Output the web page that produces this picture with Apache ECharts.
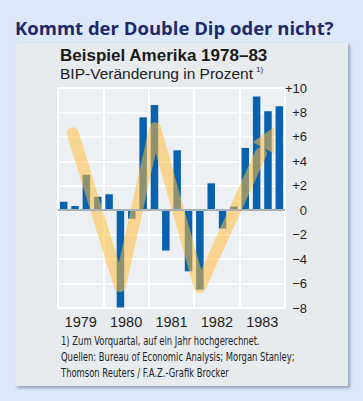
<!DOCTYPE html>
<html><head><meta charset="utf-8">
<script src="https://cdn.jsdelivr.net/npm/echarts/dist/echarts.min.js"></script>
<style>
html,body{margin:0;padding:0;background:#dde8f8;}
#wrap{position:relative;width:363px;height:401px;overflow:hidden;background:#dde8f8;}
#panel{position:absolute;left:15px;top:43px;width:333px;height:343px;background:#e7ebee;box-shadow:2px 2px 3px rgba(60,70,90,0.45);}
#chart{position:absolute;left:0;top:0;width:363px;height:401px;}
</style></head><body>
<div id="wrap"><div id="panel"></div><div id="chart"></div></div>
<script>
const quarters = ['1979 Q1','1979 Q2','1979 Q3','1979 Q4','1980 Q1','1980 Q2','1980 Q3','1980 Q4',
  '1981 Q1','1981 Q2','1981 Q3','1981 Q4','1982 Q1','1982 Q2','1982 Q3','1982 Q4',
  '1983 Q1','1983 Q2','1983 Q3','1983 Q4'];
const gdpChange = [0.7, 0.35, 2.9, 1.1, 1.3, -7.95, -0.7, 7.6, 8.6, -3.3, 4.9, -5.0, -6.5, 2.2, -1.5, 0.3, 5.1, 9.3, 8.1, 8.5];
const years = ['1979','1980','1981','1982','1983'];
const trendX = [1.3, 5.45, 8.55, 12.5, 17.87];
const trendY = [6.3, -6.2, 6.7, -6.3, 4.65];
const arrowBase = [18.09, 5.1];
const arrowTip = [19.05, 6.8];
const footnotes = ['1) Zum Vorquartal, auf ein Jahr hochgerechnet.',
  'Quellen: Bureau of Economic Analysis; Morgan Stanley;',
  'Thomson Reuters / F.A.Z.-Grafik Brocker'];

const trendColor = 'rgba(255,190,60,0.55)';
const chart = echarts.init(document.getElementById('chart'), null, {renderer:'svg'});
const txt = (x, y, text, font, fill, sx) => ({type:'text', x, y, scaleX: sx || 1, silent:true,
  style:{text, font, fill, align:'left', verticalAlign:'middle', textAlign:'left', textVerticalAlign:'middle'}});
const fnFont = '12px "DejaVu Sans Condensed", sans-serif';
chart.setOption({
  animation:false,
  backgroundColor:'transparent',
  grid:{left:58, right:78, top:88, bottom:93, show:true, backgroundColor:'#edf0f3', borderWidth:0},
  xAxis:[
    {type:'category', position:'bottom', data:quarters, boundaryGap:true, axisLine:{show:false, onZero:false}, axisTick:{show:false},
     axisLabel:{show:false}, splitLine:{show:false}},
    {type:'value', position:'top', min:0, max:20, interval:4, axisLine:{show:false, onZero:false}, axisTick:{show:false},
     axisLabel:{show:false}, splitLine:{show:true, lineStyle:{color:'#ffffff', width:2}}},
    {type:'value', position:'bottom', min:0, max:20, interval:2, axisLine:{show:false, onZero:false}, axisTick:{show:false},
     splitLine:{show:false},
     axisLabel:{margin:6, fontSize:14.5, color:'#1e1e1e', fontFamily:'"Liberation Sans", Arial, sans-serif',
       formatter:v => (v % 4 === 2) ? years[(v - 2) / 4] : ''}}
  ],
  yAxis:{type:'value', position:'right', min:-8, max:10, interval:2,
    axisLine:{show:false, onZero:false}, axisTick:{show:false},
    splitLine:{show:true, lineStyle:{color:'#ffffff', width:2}},
    axisLabel:{align:'right', margin:22, fontSize:13, color:'#1e1e1e', fontFamily:'"Liberation Sans", Arial, sans-serif',
      formatter:v => v > 0 ? '+' + v : (v < 0 ? '\u2212' + (-v) : '0')}},
  series:[
    {type:'bar', xAxisIndex:0, data:gdpChange, barWidth:7.5, itemStyle:{color:'#0a61ad'}, z:2,
     markLine:{silent:true, symbol:'none', label:{show:false}, lineStyle:{color:'#a8b0b8', width:2, type:'solid'},
       data:[{yAxis:0}]}},
    {type:'line', xAxisIndex:1, data:trendX.map((x,i)=>[x, trendY[i]]), showSymbol:false, symbol:'none', z:4,
     lineStyle:{color:trendColor, width:12, cap:'round', join:'round'}},
    {type:'custom', xAxisIndex:1, yAxisIndex:0, z:4, silent:true,
     data:[[arrowBase[0], arrowBase[1], arrowTip[0], arrowTip[1]]],
     renderItem:(params, api) => {
       const b = api.coord([api.value(0), api.value(1)]);
       const t = api.coord([api.value(2), api.value(3)]);
       const dx = t[0]-b[0], dy = t[1]-b[1], L = Math.hypot(dx, dy);
       const px = -dy/L*12, py = dx/L*12;
       return {type:'polygon', shape:{points:[t, [b[0]+px, b[1]+py], [b[0]-px, b[1]-py]]}, style:{fill:trendColor}};
     }}
  ],
  graphic:[
    txt(15, 27, 'Kommt der Double Dip oder nicht?', 'bold 18.5px "Open Sans", sans-serif', '#1d2a6b'),
    txt(60, 55, 'Beispiel Amerika 1978\u201383', 'bold 17px "Liberation Sans", Arial, sans-serif', '#1a1a1a'),
    txt(60, 73, 'BIP-Ver\u00e4nderung in Prozent', '15.5px "Liberation Sans", Arial, sans-serif', '#222222', 1),
    txt(256, 69.5, '1)', '8px "Liberation Sans", Arial, sans-serif', '#222222'),
    txt(61, 341, footnotes[0], fnFont, '#222222', 0.78),
    txt(61, 357, footnotes[1], fnFont, '#222222', 0.78),
    txt(61, 373, footnotes[2], fnFont, '#222222', 0.78)
  ]
});
</script>
</body></html>
